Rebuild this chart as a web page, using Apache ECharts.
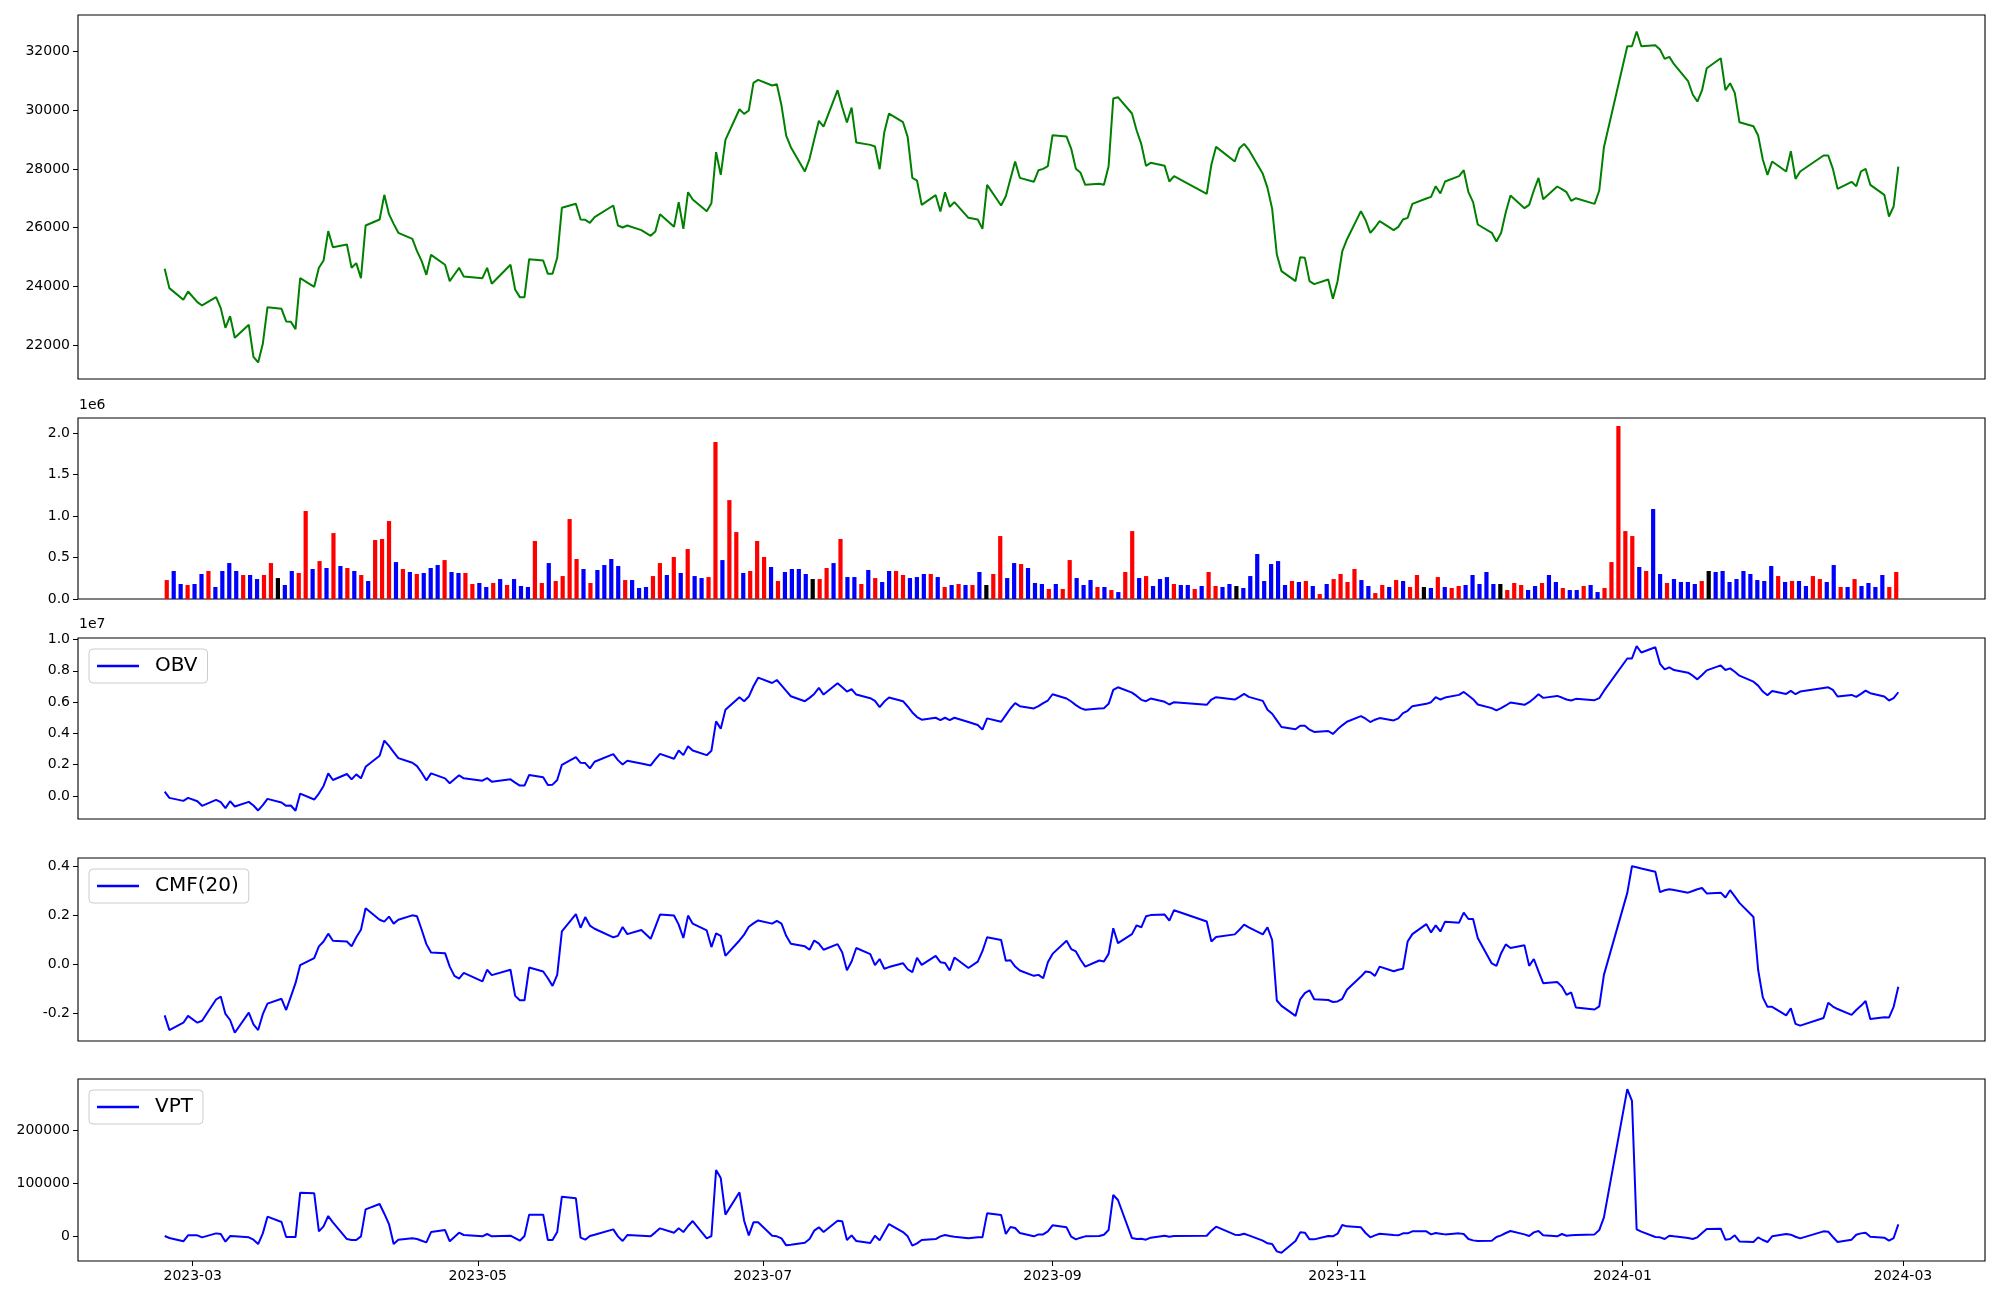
<!DOCTYPE html>
<html><head><meta charset="utf-8">
<script src="https://cdn.jsdelivr.net/npm/echarts@6.0.0/dist/echarts.min.js"></script>
<style>html,body{margin:0;padding:0;background:#fff}#c{width:2000px;height:1300px}</style>
</head><body><div id="c"></div><script>
const dates = [
'2023-02-23','2023-02-24','2023-02-27','2023-02-28',
'2023-03-02','2023-03-03','2023-03-06','2023-03-07','2023-03-08','2023-03-09','2023-03-10','2023-03-13','2023-03-14','2023-03-15','2023-03-16','2023-03-17','2023-03-20','2023-03-21','2023-03-22','2023-03-23','2023-03-24','2023-03-27','2023-03-28','2023-03-29','2023-03-30','2023-03-31',
'2023-04-03','2023-04-04','2023-04-05','2023-04-06','2023-04-07','2023-04-10','2023-04-11','2023-04-12','2023-04-13','2023-04-14','2023-04-17','2023-04-18','2023-04-19','2023-04-20','2023-04-21','2023-04-24','2023-04-25','2023-04-26','2023-04-27','2023-04-28',
'2023-05-02','2023-05-03','2023-05-04','2023-05-08','2023-05-09','2023-05-10','2023-05-11','2023-05-12','2023-05-15','2023-05-16','2023-05-17','2023-05-18','2023-05-19','2023-05-22','2023-05-23','2023-05-24','2023-05-25','2023-05-26','2023-05-30','2023-05-31',
'2023-06-01','2023-06-02','2023-06-05','2023-06-07','2023-06-08','2023-06-09','2023-06-12','2023-06-13','2023-06-14','2023-06-15','2023-06-16','2023-06-19','2023-06-20','2023-06-21','2023-06-22','2023-06-23','2023-06-26','2023-06-27','2023-06-28','2023-06-29','2023-06-30',
'2023-07-03','2023-07-04','2023-07-05','2023-07-06','2023-07-07','2023-07-10','2023-07-11','2023-07-12','2023-07-13','2023-07-14','2023-07-17','2023-07-18','2023-07-19','2023-07-20','2023-07-21','2023-07-24','2023-07-25','2023-07-26','2023-07-27','2023-07-28','2023-07-31',
'2023-08-01','2023-08-02','2023-08-03','2023-08-04','2023-08-07','2023-08-08','2023-08-09','2023-08-10','2023-08-11','2023-08-14','2023-08-16','2023-08-17','2023-08-18','2023-08-21','2023-08-22','2023-08-23','2023-08-24','2023-08-25','2023-08-28','2023-08-29','2023-08-30','2023-08-31',
'2023-09-01','2023-09-04','2023-09-05','2023-09-06','2023-09-07','2023-09-08','2023-09-11','2023-09-12','2023-09-13','2023-09-14','2023-09-15','2023-09-18','2023-09-19','2023-09-20','2023-09-21','2023-09-22','2023-09-25','2023-09-26','2023-09-27',
'2023-10-04','2023-10-05','2023-10-06','2023-10-10','2023-10-11','2023-10-12','2023-10-13','2023-10-16','2023-10-17','2023-10-18','2023-10-19','2023-10-20','2023-10-23','2023-10-24','2023-10-25','2023-10-26','2023-10-27','2023-10-30','2023-10-31',
'2023-11-01','2023-11-02','2023-11-03','2023-11-06','2023-11-07','2023-11-08','2023-11-09','2023-11-10','2023-11-13','2023-11-14','2023-11-15','2023-11-16','2023-11-17','2023-11-20','2023-11-21','2023-11-22','2023-11-23','2023-11-24','2023-11-27','2023-11-28','2023-11-29','2023-11-30',
'2023-12-01','2023-12-04','2023-12-05','2023-12-06','2023-12-07','2023-12-08','2023-12-11','2023-12-12','2023-12-13','2023-12-14','2023-12-15','2023-12-18','2023-12-19','2023-12-20','2023-12-21','2023-12-22','2023-12-26','2023-12-27','2023-12-28',
'2024-01-02','2024-01-03','2024-01-04','2024-01-05','2024-01-08','2024-01-09','2024-01-10','2024-01-11','2024-01-12','2024-01-15','2024-01-16','2024-01-17','2024-01-18','2024-01-19','2024-01-22','2024-01-23','2024-01-24','2024-01-25','2024-01-26','2024-01-29','2024-01-30','2024-01-31',
'2024-02-01','2024-02-02','2024-02-05','2024-02-06','2024-02-07','2024-02-08','2024-02-13','2024-02-14','2024-02-15','2024-02-16','2024-02-19','2024-02-20','2024-02-21','2024-02-22','2024-02-23','2024-02-26','2024-02-27','2024-02-28','2024-02-29'];

const closePrice = [
24595,23937,23539,23823,
23460,23346,23630,23255,22585,22983,22245,22687,21597,21404,22040,23289,23232,22801,22790,22540,24277,23982,24629,24879,25879,25334,
25424,24629,24788,24277,26072,26276,27116,26458,26128,25822,25617,25197,24856,24391,25072,24732,24175,24402,24629,24334,
24277,24629,24084,24732,23891,23630,23630,24925,24879,24425,24425,24970,26674,26810,26276,26265,26163,26356,26753,26072,
26004,26072,25913,25720,25867,26458,26026,26867,25958,27207,26958,26560,26833,28570,27798,28990,30035,29876,29990,30932,31035,
30842,30887,30160,29138,28741,27912,28343,29002,29638,29445,30683,30103,29581,30092,28899,28820,28763,27991,29252,29888,29592,
29093,27696,27605,26776,27105,26549,27207,26708,26867,26333,26276,25958,27458,26753,27071,27662,28252,27696,27560,27957,28002,28093,
29150,29104,28684,28002,27866,27458,27492,27458,28093,30399,30444,29888,29308,28843,28105,28207,28105,27571,27753,
27151,28150,28752,28252,28707,28854,28650,27832,27355,26640,25083,24516,24175,24993,24970,24175,24073,24232,23573,
24175,25186,25595,26560,26253,25822,26004,26219,25913,26026,26276,26333,26810,26992,27048,27412,27162,27571,27753,27957,27207,26867,
26106,25822,25527,25822,26526,27094,26662,26776,27264,27696,26969,27401,27310,27207,26912,27003,26810,27264,28741,
32182,32182,32682,32182,32216,32068,31750,31818,31569,30995,30535,30297,30683,31432,31773,30683,30921,30592,29592,29456,29138,28320,
27798,28252,27912,28604,27662,27912,28457,28457,28002,27321,27560,27412,27912,28002,27458,27117,26379,26719,28082];

// volume in thousands of shares
const volumeK = [
229,338,181,169,181,302,338,145,338,434,338,290,290,241,290,434,253,169,338,314,
1062,362,458,374,796,398,374,338,290,217,712,724,941,446,362,326,302,314,374,410,
470,326,314,314,181,193,145,193,241,169,241,157,145,700,193,434,217,277,965,483,
362,193,350,410,483,398,229,229,133,145,277,434,290,507,314,603,277,253,265,1894,
470,1194,808,314,338,700,507,386,217,326,362,362,302,241,241,374,434,724,265,265,
181,350,253,205,338,338,290,253,265,302,302,265,145,169,181,169,169,326,169,302,
760,253,434,422,374,193,181,121,181,121,470,253,169,229,145,145,109,84,326,820,
253,277,157,241,265,181,169,169,121,157,326,157,145,181,157,133,277,543,217,422,
458,169,217,205,217,157,60,181,241,302,205,362,229,157,72,169,145,229,217,145,
290,145,133,265,145,133,157,169,290,181,326,181,181,109,193,169,109,157,193,290,
205,133,109,109,157,169,84,133,446,2087,820,760,386,338,1086,302,193,241,205,205,
181,217,338,326,338,205,241,338,302,229,217,398,277,205,217,217,157,277,241,205,
410,145,145,241,157,193,145,290,145,326];

// bar colour code: 1 red, -1 blue, 0 black
const volumeDir = [
1,-1,-1,1,-1,-1,1,-1,-1,-1, -1,1,-1,-1,1,1,0,-1,-1,1, 1,-1,1,-1,1,-1,1,-1,1,-1, 1,1,1,-1,1,-1,1,-1,-1,-1,
1,-1,-1,1,1,-1,-1,1,-1,1, -1,-1,-1,1,1,-1,1,1,1,1, -1,1,-1,-1,-1,-1,1,-1,-1,-1, 1,1,-1,1,-1,1,-1,-1,1,1,
-1,1,1,-1,1,1,1,-1,1,-1, -1,-1,-1,0,1,1,-1,1,-1,-1, 1,-1,1,-1,-1,1,1,-1,-1,-1, 1,-1,1,-1,1,-1,1,-1,0,1,
1,-1,-1,1,-1,-1,-1,1,-1,1, 1,-1,-1,-1,1,-1,1,-1,1,1, -1,1,-1,-1,-1,1,-1,-1,1,-1, 1,1,-1,-1,0,-1,-1,-1,-1,-1,
-1,-1,1,-1,1,-1,1,-1,1,1, 1,1,-1,-1,1,1,-1,1,-1,1, 1,0,-1,1,-1,1,1,-1,-1,-1, -1,-1,0,1,1,1,-1,-1,1,-1,
-1,1,-1,-1,1,-1,-1,1,1,1, 1,1,-1,1,-1,-1,1,-1,-1,-1, -1,1,0,-1,-1,-1,-1,-1,-1,-1, -1,-1,1,-1,1,-1,-1,1,1,-1,
-1,1,-1,1,-1,-1,-1,-1,1,1];

// OBV in thousands
const obvK = [
275,-127,-318,-127,
-339,-636,-254,-403,-784,-339,-678,-381,-614,-932,-593,-191,-424,-636,-614,-953,148,-233,148,636,1441,1017,
1398,1059,1377,1123,1864,2563,3538,3199,2797,2415,2119,1907,1483,996,1441,1123,805,1059,1314,1123,
975,1144,911,1059,847,657,657,1335,1186,699,720,1017,1991,2479,2119,2097,1758,2182,2669,2288,
2013,2246,2076,1949,2330,2691,2373,2902,2606,3178,2902,2606,2881,4767,4301,5508,6313,6059,6356,7013,7563,
7224,7415,7076,6716,6377,6059,6271,6525,6907,6483,7203,6949,6674,6822,6483,6250,6080,5678,6038,6292,6059,
5720,5339,5042,4873,5000,4852,5000,4852,5000,4724,4534,4237,4958,4746,5169,5593,5932,5741,5593,5741,5932,6102,
6504,6229,6038,5805,5614,5508,5593,5614,5890,6780,6949,6610,6398,6144,6059,6229,6017,5847,5995,
5826,6165,6313,6165,6335,6525,6335,6080,5508,5254,4830,4407,4258,4491,4491,4237,4089,4152,3962,
4258,4513,4746,5106,4936,4724,4873,4979,4830,4958,5297,5445,5741,5890,5995,6313,6165,6292,6462,6652,6419,6186,
5847,5614,5466,5614,5784,5974,5826,5995,6229,6504,6271,6398,6292,6165,6102,6208,6123,6250,6716,
8792,8792,9576,9174,9513,8453,8093,8220,8051,7881,7690,7457,7732,8030,8347,8051,8157,7945,7690,7309,7055,6674,
6441,6716,6525,6716,6504,6674,6907,6949,6780,6356,6462,6335,6525,6737,6568,6356,6102,6250,6631];

const cmf20 = [
-0.210,-0.270,-0.240,-0.212,
-0.240,-0.232,-0.145,-0.133,-0.204,-0.229,-0.281,-0.199,-0.247,-0.270,-0.205,-0.162,-0.142,-0.188,-0.133,-0.078,-0.004,0.025,0.073,0.093,0.125,0.096,
0.093,0.073,0.110,0.141,0.229,0.182,0.174,0.195,0.166,0.182,0.200,0.196,0.141,0.082,0.048,0.045,-0.010,-0.048,-0.059,-0.036,
-0.071,-0.023,-0.045,-0.023,-0.130,-0.148,-0.148,-0.014,-0.030,-0.058,-0.089,-0.044,0.134,0.205,0.149,0.193,0.158,0.145,0.110,0.116,
0.152,0.123,0.140,0.104,0.153,0.203,0.199,0.162,0.107,0.199,0.166,0.138,0.070,0.126,0.116,0.034,0.097,0.121,0.153,0.167,0.179,
0.166,0.177,0.166,0.116,0.084,0.073,0.059,0.097,0.084,0.059,0.082,0.048,-0.025,0.011,0.066,0.041,-0.004,0.021,-0.019,-0.012,0.004,
-0.021,-0.033,0.026,-0.003,0.034,0.008,0.005,-0.026,0.027,-0.016,0.010,0.053,0.110,0.099,0.014,0.016,-0.010,-0.026,-0.048,-0.044,-0.058,0.008,
0.042,0.096,0.062,0.052,0.018,-0.010,0.015,0.011,0.042,0.147,0.086,0.123,0.159,0.151,0.196,0.201,0.203,0.178,0.221,
0.175,0.093,0.111,0.122,0.141,0.162,0.151,0.122,0.151,0.099,-0.149,-0.171,-0.212,-0.144,-0.119,-0.107,-0.144,-0.147,-0.155,
-0.153,-0.142,-0.105,-0.051,-0.030,-0.033,-0.048,-0.010,-0.029,-0.023,-0.019,0.093,0.123,0.164,0.130,0.159,0.134,0.174,0.170,0.211,0.185,0.185,
0.107,0.003,-0.007,0.045,0.081,0.066,0.077,-0.007,0.021,-0.030,-0.078,-0.073,-0.092,-0.126,-0.116,-0.178,-0.186,-0.173,-0.044,
0.292,0.401,0.397,0.392,0.379,0.295,0.303,0.307,0.304,0.293,0.300,0.307,0.312,0.290,0.293,0.273,0.303,0.278,0.251,0.193,-0.023,-0.136,
-0.175,-0.175,-0.210,-0.181,-0.245,-0.252,-0.221,-0.158,-0.174,-0.184,-0.208,-0.188,-0.171,-0.151,-0.225,-0.218,-0.219,-0.175,-0.093];

// VPT in thousands
const vptK = [
0,-3.8,-10,1.3,
1.3,-2.5,5,3.8,-10.7,0,-0.6,-2.5,-6.9,-15.1,5,36.5,26.4,-1.9,-1.9,-1.9,81.8,80.5,8.8,18.2,37.7,25.8,
-5.7,-7.5,-7.5,-0.6,50.3,60.4,42.1,22.6,-15.1,-6.9,-4.4,-5.7,-8.8,-12,7.5,11.3,-10,-1.9,6.3,1.9,
-0.6,3.8,-0.6,0.6,-3.8,-8.8,0,40.3,40.3,-7.5,-7.5,7.5,74.2,71.1,-3.1,-6.9,0,2.5,12.6,-0.6,
-9.4,1.9,0.6,-0.6,6.9,14.5,6.3,14.5,7.5,18.9,28.3,-4.4,0,124.5,109.4,40.3,82.4,28.9,1.3,25.8,25.8,
0.6,-0.6,-4.4,-17.6,-16.4,-12.6,-5.7,10.1,16.4,7.5,28.9,27.7,-7.5,1.3,-9.4,-13.2,0.6,-8.2,7.5,22.6,7.5,
-0.6,-18.2,-13.8,-7.5,-5.7,-0.6,1.9,0,-1.3,-4.4,-2.5,-2.5,42.8,39.6,3.8,17,15.1,5.7,-0.6,3.1,3.1,8.8,
20.1,16.4,-1.3,-6.3,-3.1,-0.6,0,2.5,11.3,77.4,67.9,-3.8,-5.7,-5,-6.9,-3.1,0.6,-1.3,0,
0.6,10.1,17.6,2.5,1.9,4.4,1.3,-8.8,-13.8,-15.1,-28.9,-31.5,-9.4,6.9,6.3,-6.3,-6.3,0,-0.6,
4.4,20.8,18.2,16.4,5.7,-2.5,1.3,4.4,1.9,1.3,5,5,8.8,8.8,3.1,5.7,4.4,3.1,5,3.8,-5.7,-8.2,
-9.4,-8.8,-1.9,1.3,5.7,9.4,3.1,0,6.9,9.4,1.3,-0.6,3.8,0.6,1.3,1.9,3.1,11.3,35.2,
277,255,12.6,8.2,-1.9,-2.5,-5.7,0.6,-0.6,-3.8,-5.7,-2.5,5.7,13.2,13.8,-6.9,-5.7,1.3,-10.1,-11.3,-2.5,-7.5,
-11.3,-0.6,3.8,2.5,-1.3,-4.4,8.8,8.2,-1.9,-11.3,-6.9,2.5,5,6.3,-1.3,-3.1,-8.8,-3.8,22];

const xTickLabels = ['2023-03','2023-05','2023-07','2023-09','2023-11','2024-01','2024-03'];
const priceTicks = [22000,24000,26000,28000,30000,32000];
const volumeTicks = [0,500000,1000000,1500000,2000000];
const obvTicks = [0,2000000,4000000,6000000,8000000,10000000];
const cmfTicks = [-0.2,0,0.2,0.4];
const vptTicks = [0,100000,200000];

const ts = d => new Date(d + 'T00:00:00').getTime();
const xTickTs = xTickLabels.map(s => ts(s + '-01'));
const xMin = new Date('2023-02-04T10:48:00').getTime();
const xMax = new Date('2024-03-18T13:12:00').getTime();

const font = {color:'#000', fontFamily:'DejaVu Sans', fontSize:14};
const gridBase = {show:true, borderColor:'#000', borderWidth:1.1, backgroundColor:'transparent', containLabel:false, outerBoundsMode:'none'};
const grids = [
  {top:15, height:364}, {top:418, height:181}, {top:638, height:181}, {top:858, height:183}, {top:1079, height:182}
].map(g => Object.assign({left:78, right:15}, gridBase, g));

function yAx(gi, min, max, ticks, fmt) {
  return {type:'value', gridIndex:gi, min:min, max:max, scale:true, position:'left',
    axisLine:{show:false, onZero:false}, splitLine:{show:false},
    axisTick:{show:true, inside:false, length:5, customValues:ticks, lineStyle:{color:'#000', width:1}},
    axisLabel:Object.assign({show:true, customValues:ticks, formatter:fmt, margin:8}, font)};
}
function xLabel(v) {
  let k = 0, best = Infinity;
  xTickTs.forEach((t,i) => { const d = Math.abs(t - v); if (d < best) { best = d; k = i; } });
  return xTickLabels[k];
}
function xAx(gi, showLabel) {
  return {type:'value', gridIndex:gi, min:xMin, max:xMax, scale:true, position:'bottom',
    axisLine:{show:false, onZero:false}, splitLine:{show:false},
    axisTick:{show:showLabel, inside:false, length:5, customValues:xTickTs, lineStyle:{color:'#000', width:1}},
    axisLabel:Object.assign({show:showLabel, customValues:xTickTs, margin:8, formatter:xLabel}, font)};
}

const dirColor = {'1':'#ff0000','-1':'#0000ff','0':'#000000'};
const legendBase = {orient:'horizontal', icon:'rect', itemWidth:42, itemHeight:2.5,
  padding:[7,10,7,8], borderColor:'#cccccc', borderWidth:1, borderRadius:4,
  backgroundColor:'rgba(255,255,255,0.8)',
  textStyle:{color:'#000', fontFamily:'DejaVu Sans', fontSize:20, padding:[0,0,0,11]}};

const option = {
  animation:false,
  backgroundColor:'#ffffff',
  grid: grids,
  xAxis: [
    xAx(0,false),
    {type:'value', gridIndex:1, min:-12.78, max:261.78, position:'bottom', axisLine:{show:false, onZero:false}, axisTick:{show:false}, axisLabel:{show:false}, splitLine:{show:false}},
    xAx(2,false), xAx(3,false), xAx(4,true)
  ],
  yAxis: [
    yAx(0, 20840, 33246, priceTicks, v => String(v)),
    yAx(1, 0, 2185000, volumeTicks, v => (v/1e6).toFixed(1)),
    yAx(2, -1479000, 10102000, obvTicks, v => (v/1e7).toFixed(1)),
    yAx(3, -0.315, 0.435, cmfTicks, v => v.toFixed(1)),
    yAx(4, -47100, 296100, vptTicks, v => String(Math.round(v)))
  ],
  legend: [
    Object.assign({data:['OBV'], left:89, top:649}, legendBase),
    Object.assign({data:['CMF(20)'], left:89, top:869}, legendBase),
    Object.assign({data:['VPT'], left:89, top:1090}, legendBase)
  ],
  graphic: [
    {type:'text', left:79, top:398, style:{text:'1e6', fill:'#000', font:'14px "DejaVu Sans"'}},
    {type:'text', left:79, top:617, style:{text:'1e7', fill:'#000', font:'14px "DejaVu Sans"'}}
  ],
  series: [
    {type:'line', name:'Close', xAxisIndex:0, yAxisIndex:0, showSymbol:false, symbol:'none',
      lineStyle:{color:'#008000', width:2}, itemStyle:{color:'#008000'},
      data: dates.map((d,i)=>[ts(d), closePrice[i]])},
    {type:'bar', name:'Volume', xAxisIndex:1, yAxisIndex:1, barWidth:4.2,
      data: volumeK.map((v,i)=>({value:[i, v*1000], itemStyle:{color:dirColor[String(volumeDir[i])]}}))},
    {type:'line', name:'OBV', xAxisIndex:2, yAxisIndex:2, showSymbol:false, symbol:'none',
      lineStyle:{color:'#0000ff', width:2}, itemStyle:{color:'#0000ff'},
      data: dates.map((d,i)=>[ts(d), obvK[i]*1000])},
    {type:'line', name:'CMF(20)', xAxisIndex:3, yAxisIndex:3, showSymbol:false, symbol:'none',
      lineStyle:{color:'#0000ff', width:2}, itemStyle:{color:'#0000ff'},
      data: dates.map((d,i)=>[ts(d), cmf20[i]])},
    {type:'line', name:'VPT', xAxisIndex:4, yAxisIndex:4, showSymbol:false, symbol:'none',
      lineStyle:{color:'#0000ff', width:2}, itemStyle:{color:'#0000ff'},
      data: dates.map((d,i)=>[ts(d), vptK[i]*1000])}
  ]
};
const chart = echarts.init(document.getElementById('c'), null, {renderer:'canvas', width:2000, height:1300});
chart.setOption(option);
</script></body></html>
